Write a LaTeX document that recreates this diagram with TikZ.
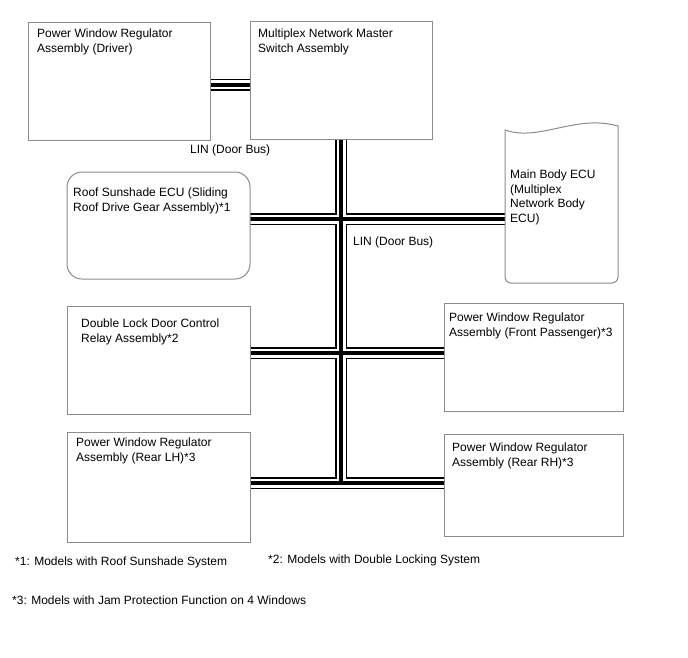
\documentclass[tikz,border=0pt]{standalone}
\usepackage{fontspec}
\setmainfont{Liberation Sans}
\definecolor{boxgray}{gray}{0.55}
\pgfdeclarelayer{bg}
\pgfsetlayers{bg,main}
\begin{document}
\begin{tikzpicture}[x=1pt,y=-1pt,
  font=\fontsize{12}{14.5}\selectfont,
  box/.style={draw=boxgray, line width=1pt, fill=white, anchor=north west, inner sep=0, outer sep=0},
  lbl/.style={anchor=north west, inner sep=0, align=left},
  buspath/.style={insert path={
    (drv.east |- h1) -- (msw.west |- h1)
    (msw.south -| v) -- (v |- h4)
    (roof.east |- h2) -- (mbw |- h2)
    (dbl.east |- h3) -- (fps.west |- h3)
    (rlh.east |- h4) -- (rrh.west |- h4)}}
  ]
\useasboundingbox (0,0) rectangle (688,658);
% reference coordinates for the bus
\coordinate (v) at (341,0);
\coordinate (h1) at (0,85);
\coordinate (h2) at (0,219);
\coordinate (h3) at (0,353);
\coordinate (h4) at (0,483);
\coordinate (mbw) at (505,0);
% boxes
\node[box, minimum width=182, minimum height=118] (drv) at (28,23) {};
\node[box, minimum width=182, minimum height=118] (msw) at (250,22) {};
\node[box, rounded corners=15, minimum width=183, minimum height=107] (roof) at (67,172) {};
\node[box, minimum width=183, minimum height=108] (dbl) at (67,306) {};
\node[box, minimum width=179, minimum height=108] (fps) at (444,303) {};
\node[box, minimum width=183, minimum height=110] (rlh) at (67,432) {};
\node[box, minimum width=179, minimum height=102] (rrh) at (444,434) {};
\draw[draw=boxgray, line width=1pt, fill=white]
  (505,130) .. controls (540,142) and (575,114) .. (618,126)
  [rounded corners=6] -- (618,283) -- (505,283) [sharp corners] -- cycle;
% bus (triple line)
\begin{pgfonlayer}{bg}
\path[draw=black, line width=12pt, buspath];
\path[draw=white, line width=9pt, buspath];
\path[draw=black, line width=4pt, buspath];
\end{pgfonlayer}
% texts
\node[lbl] (tdrv) at (37,29) {Power Window Regulator\\Assembly (Driver)};
\node[lbl] (tmsw) at (258,29) {Multiplex Network Master\\Switch Assembly};
\node[lbl] (troof) at (73,188) {Roof Sunshade ECU (Sliding\\Roof Drive Gear Assembly)*1};
\node[lbl] (tmb) at (510,170) {Main Body ECU\\(Multiplex\\Network Body\\ECU)};
\node[lbl] (tdbl) at (81,319) {Double Lock Door Control\\Relay Assembly*2};
\node[lbl] (tfps) at (449,313) {Power Window Regulator\\Assembly (Front Passenger)*3};
\node[lbl] (trlh) at (76,438) {Power Window Regulator\\Assembly (Rear LH)*3};
\node[lbl] (trrh) at (452,443) {Power Window Regulator\\Assembly (Rear RH)*3};
\node[lbl] (lin1) at (190,145) {LIN (Door Bus)};
\node[lbl] (lin2) at (353,237) {LIN (Door Bus)};
\node[lbl] (fn1) at (15,557) {*1: Models with Roof Sunshade System};
\node[lbl] (fn2) at (268,555) {*2: Models with Double Locking System};
\node[lbl] (fn3) at (12,596) {*3: Models with Jam Protection Function on 4 Windows};
\end{tikzpicture}
\end{document}
